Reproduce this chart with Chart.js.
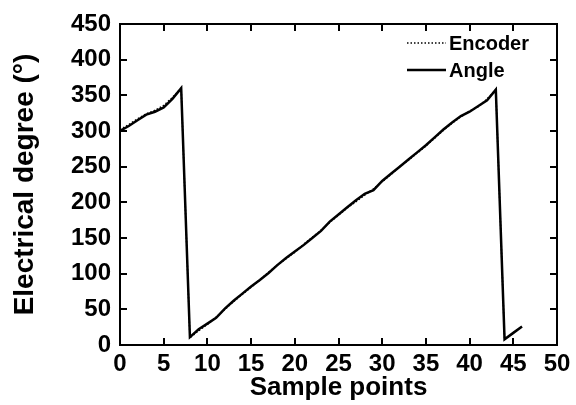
<!DOCTYPE html>
<html>
<head>
<meta charset="utf-8">
<script src="https://cdn.jsdelivr.net/npm/chart.js@4/dist/chart.umd.min.js"></script>
<style>
  html, body { margin: 0; padding: 0; background: #fff; }
  #wrap { width: 576px; height: 405px; }
</style>
</head>
<body>
<div id="wrap"><canvas id="angleChart"></canvas></div>
<script>
// sample index and measured electrical angle
const samplePoints = [0, 1, 2, 3, 4, 5, 6, 7, 8, 9, 10, 11, 12, 13, 14, 15, 16, 17, 18, 19, 20, 21, 22, 23,
  24, 25, 26, 27, 28, 29, 30, 31, 32, 33, 34, 35, 36, 37, 38, 39, 40, 41, 42, 43, 44, 45, 46];
const encoderDeg = [302, 309, 317, 324, 329, 336, 347, 360, 10, 20, 29, 39, 50, 61, 71, 81, 91, 102, 112, 121, 130, 141, 151, 161,
  172, 182, 192, 201, 210, 219, 229, 239, 250, 259, 269, 279, 290, 301, 311, 320, 328, 334, 345, 358, 8, 17, 26];
const angleDeg = [300, 307, 315, 323, 327, 333, 345, 360, 11, 22, 30, 38, 51, 62, 72, 82, 91, 101, 112, 122, 131, 140, 150, 160,
  173, 183, 193, 203, 212, 217, 230, 240, 250, 260, 270, 280, 291, 302, 312, 321, 327, 335, 343, 358, 8, 17, 26];
const xTickValues = [0, 5, 10, 15, 20, 25, 30, 35, 40, 45, 50];
const yTickValues = [0, 50, 100, 150, 200, 250, 300, 350, 400, 450];

const FONT = "'Liberation Sans', Arial, Helvetica, sans-serif";

function toPoints(ys) {
  return samplePoints.map((x, i) => ({ x: x, y: ys[i] }));
}

// box around the plot with inward ticks on all four sides
const frameTicks = {
  id: 'frameTicks',
  afterDatasetsDraw(chart) {
    const { ctx, chartArea: a, scales: { x, y } } = chart;
    const len = 7;
    ctx.save();
    ctx.strokeStyle = '#000';
    ctx.lineWidth = 2;
    ctx.strokeRect(a.left, a.top, a.right - a.left, a.bottom - a.top);
    ctx.beginPath();
    xTickValues.forEach(v => {
      const px = Math.round(x.getPixelForValue(v));
      ctx.moveTo(px, a.bottom); ctx.lineTo(px, a.bottom - len);
      ctx.moveTo(px, a.top); ctx.lineTo(px, a.top + len);
    });
    yTickValues.forEach(v => {
      const py = Math.round(y.getPixelForValue(v));
      ctx.moveTo(a.left, py); ctx.lineTo(a.left + len, py);
      ctx.moveTo(a.right, py); ctx.lineTo(a.right - len, py);
    });
    ctx.stroke();
    ctx.restore();
  }
};

// legend drawn inside the top-right corner of the plot
const innerLegend = {
  id: 'innerLegend',
  afterDraw(chart) {
    const { ctx, chartArea: a } = chart;
    ctx.save();
    ctx.font = 'bold 20px ' + FONT;
    ctx.textBaseline = 'middle';
    ctx.fillStyle = '#000';
    chart.data.datasets.forEach((ds, i) => {
      const yy = a.top + 19 + i * 27;
      const x0 = a.right - 150;
      const x1 = a.right - 111;
      ctx.beginPath();
      ctx.strokeStyle = '#000';
      ctx.lineWidth = ds.borderWidth;
      ctx.setLineDash(ds.borderDash || []);
      ctx.moveTo(x0, yy);
      ctx.lineTo(x1, yy);
      ctx.stroke();
      ctx.setLineDash([]);
      ctx.fillText(ds.label, x1 + 3, yy + 1);
    });
    ctx.restore();
  }
};

new Chart(document.getElementById('angleChart'), {
  type: 'line',
  data: {
    datasets: [
      {
        label: 'Encoder',
        data: toPoints(encoderDeg),
        borderColor: '#000',
        borderWidth: 1.5,
        borderDash: [1.5, 2],
        pointRadius: 0,
        fill: false,
        tension: 0
      },
      {
        label: 'Angle',
        data: toPoints(angleDeg),
        borderColor: '#000',
        borderWidth: 2.5,
        pointRadius: 0,
        fill: false,
        tension: 0
      }
    ]
  },
  options: {
    responsive: true,
    maintainAspectRatio: false,
    animation: false,
    layout: { padding: { top: 24, right: 19, left: 0, bottom: 0 } },
    plugins: {
      legend: { display: false },
      tooltip: { enabled: false }
    },
    scales: {
      x: {
        type: 'linear',
        min: 0,
        max: 50,
        afterBuildTicks: s => { s.ticks = xTickValues.map(v => ({ value: v })); },
        afterFit: s => { s.height = 60; },
        grid: { display: false, drawTicks: false },
        border: { display: false },
        ticks: {
          color: '#000',
          padding: 5,
          maxRotation: 0,
          font: { family: FONT, size: 24, weight: 'bold' }
        },
        title: {
          display: true,
          text: 'Sample points',
          color: '#000',
          padding: { top: 0, bottom: 2 },
          font: { family: FONT, size: 26, weight: 'bold' }
        }
      },
      y: {
        min: 0,
        max: 450,
        afterBuildTicks: s => { s.ticks = yTickValues.map(v => ({ value: v })); },
        afterFit: s => { s.width = 120; },
        grid: { display: false, drawTicks: false },
        border: { display: false },
        ticks: {
          color: '#000',
          padding: 9,
          font: { family: FONT, size: 24, weight: 'bold' }
        },
        title: {
          display: true,
          text: 'Electrical degree (°)',
          color: '#000',
          padding: { top: 8, bottom: 0 },
          font: { family: FONT, size: 28, weight: 'bold' }
        }
      }
    }
  },
  plugins: [frameTicks, innerLegend]
});
</script>
</body>
</html>
